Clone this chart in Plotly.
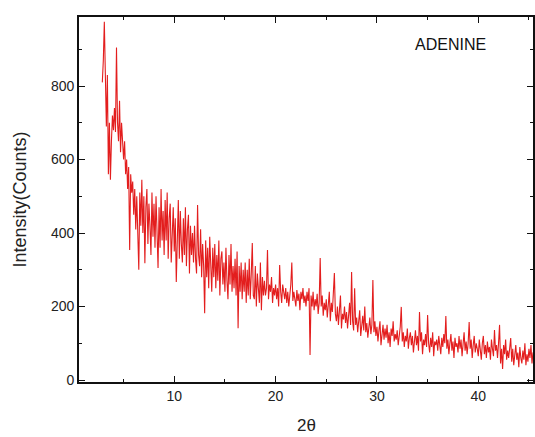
import numpy as np
import plotly.graph_objects as go

# 2-theta grid (start, step) and intensities
two_theta_start = 2.9
two_theta_step = 0.1
intensity = [
    810, 870, 975, 760, 690, 830, 560, 700, 545, 650,
    720, 680, 740, 675, 905, 700, 650, 760, 620, 700,
    640, 600, 650, 560, 600, 520, 580, 354, 560, 510,
    540, 450, 520, 410, 500, 380, 300, 510, 420, 545,
    400, 500, 318, 470, 520, 370, 480, 420, 340, 510,
    390, 480, 360, 500, 410, 305, 470, 360, 520, 380,
    460, 340, 490, 380, 510, 330, 440, 480, 320, 430,
    470, 350, 440, 267, 420, 490, 330, 460, 370, 320,
    440, 340, 470, 310, 410, 450, 290, 420, 340, 400,
    320, 420, 330, 290, 476, 340, 310, 410, 280, 370,
    310, 182, 380, 280, 360, 250, 390, 300, 240, 360,
    280, 370, 250, 340, 270, 380, 230, 330, 350, 260,
    320, 240, 360, 270, 220, 340, 260, 370, 240, 310,
    250, 330, 230, 350, 141, 310, 240, 320, 220, 300,
    240, 320, 210, 300, 230, 330, 220, 290, 373, 230,
    220, 310, 200, 290, 240, 210, 320, 190, 280, 230,
    270, 230, 250, 354, 220, 260, 240, 280, 210, 250,
    230, 260, 220, 250, 200, 313, 240, 210, 260, 230,
    220, 250, 210, 240, 200, 230, 260, 320, 215, 240,
    225, 200, 245, 215, 235, 190, 240, 220, 250, 210,
    230, 200, 240, 215, 250, 68, 230, 200, 240, 190,
    220, 200, 235, 180, 210, 332, 200, 230, 175, 210,
    190, 220, 170, 200, 240, 160, 210, 185, 230, 291,
    180, 160, 200, 150, 190, 230, 140, 180, 165, 200,
    155, 185, 140, 170, 210, 150, 294, 160, 135, 250,
    150, 170, 130, 160, 190, 120, 150, 175, 135, 200,
    130, 155, 115, 145, 170, 125, 150, 272, 130, 160,
    120, 145, 105, 135, 160, 95, 130, 150, 110, 140,
    115, 150, 100, 130, 90, 140, 120, 160, 105, 125,
    110, 135, 95, 125, 145, 199, 105, 130, 90, 120,
    105, 140, 85, 115, 130, 95, 120, 75, 110, 135,
    95, 120, 80, 185, 105, 130, 70, 110, 95, 125,
    90, 177, 100, 75, 115, 90, 130, 65, 105, 95,
    110, 80, 120, 95, 70, 115, 90, 125, 100, 174,
    85, 110, 70, 100, 125, 80, 105, 60, 115, 90,
    100, 75, 120, 85, 110, 65, 95, 130, 80, 105,
    70, 100, 158, 85, 110, 60, 95, 120, 75, 100,
    85, 65, 110, 80, 55, 100, 120, 70, 95, 60,
    105, 75, 90, 55, 110, 85, 65, 136, 80, 95,
    60, 100, 150, 45, 85, 30, 95, 70, 110, 55,
    80, 60, 100, 114, 50, 85, 40, 70, 95, 55,
    75, 35, 90, 60, 45, 80, 55, 100, 40, 70,
    50, 85, 60, 95, 45, 75, 65,
]
two_theta = [round(two_theta_start + i * two_theta_step, 2) for i in range(len(intensity))]

x_ticks = [10, 20, 30, 40]
y_ticks = [0, 200, 400, 600, 800]
label_text = "ADENINE"
x_title = "2θ"
y_title = "Intensity(Counts)"

FONT = "Liberation Sans, Arial, sans-serif"

fig = go.Figure()
fig.add_trace(go.Scatter(
    x=two_theta, y=intensity, mode="lines",
    line=dict(color="#e31e1e", width=1.1),
    showlegend=False,
))

axis_common = dict(
    showline=True, linecolor="#111", linewidth=1.6, mirror="ticks",
    ticks="inside", ticklen=6, tickwidth=1.3, tickcolor="#111",
    showgrid=False, zeroline=False, automargin=False,
    tickfont=dict(family=FONT, size=14, color="#222"),
)

fig.update_layout(
    width=535, height=437,
    margin=dict(l=79, r=2, t=17, b=55),
    paper_bgcolor="white", plot_bgcolor="white",
    xaxis=dict(
        range=[0.6, 45.4], tickvals=x_ticks,
        minor=dict(dtick=5, tick0=0, ticks="inside", ticklen=3.5, tickwidth=1.2, tickcolor="#111"),
        **axis_common,
    ),
    yaxis=dict(
        range=[-5.4, 988], tickvals=y_ticks,
        minor=dict(dtick=100, tick0=0, ticks="inside", ticklen=3.5, tickwidth=1.2, tickcolor="#111"),
        **axis_common,
    ),
)

fig.add_annotation(
    x=0.819, y=0.926, xref="paper", yref="paper",
    text=label_text, showarrow=False, xanchor="center", yanchor="middle",
    font=dict(family=FONT, size=16, color="#111"),
)
fig.add_annotation(
    x=0.5, y=-0.118, xref="paper", yref="paper",
    text=x_title, showarrow=False, xanchor="center", yanchor="middle",
    font=dict(family=FONT, size=17, color="#222"),
)
fig.add_annotation(
    x=-0.13, y=0.5, xref="paper", yref="paper",
    text=y_title, showarrow=False, textangle=-90, xanchor="center", yanchor="middle",
    font=dict(family=FONT, size=18, color="#222"),
)

fig.write_html(
    "out.html",
    config={"displayModeBar": False},
    post_script="document.body.style.margin='0px'; document.body.style.overflow='hidden';",
)
